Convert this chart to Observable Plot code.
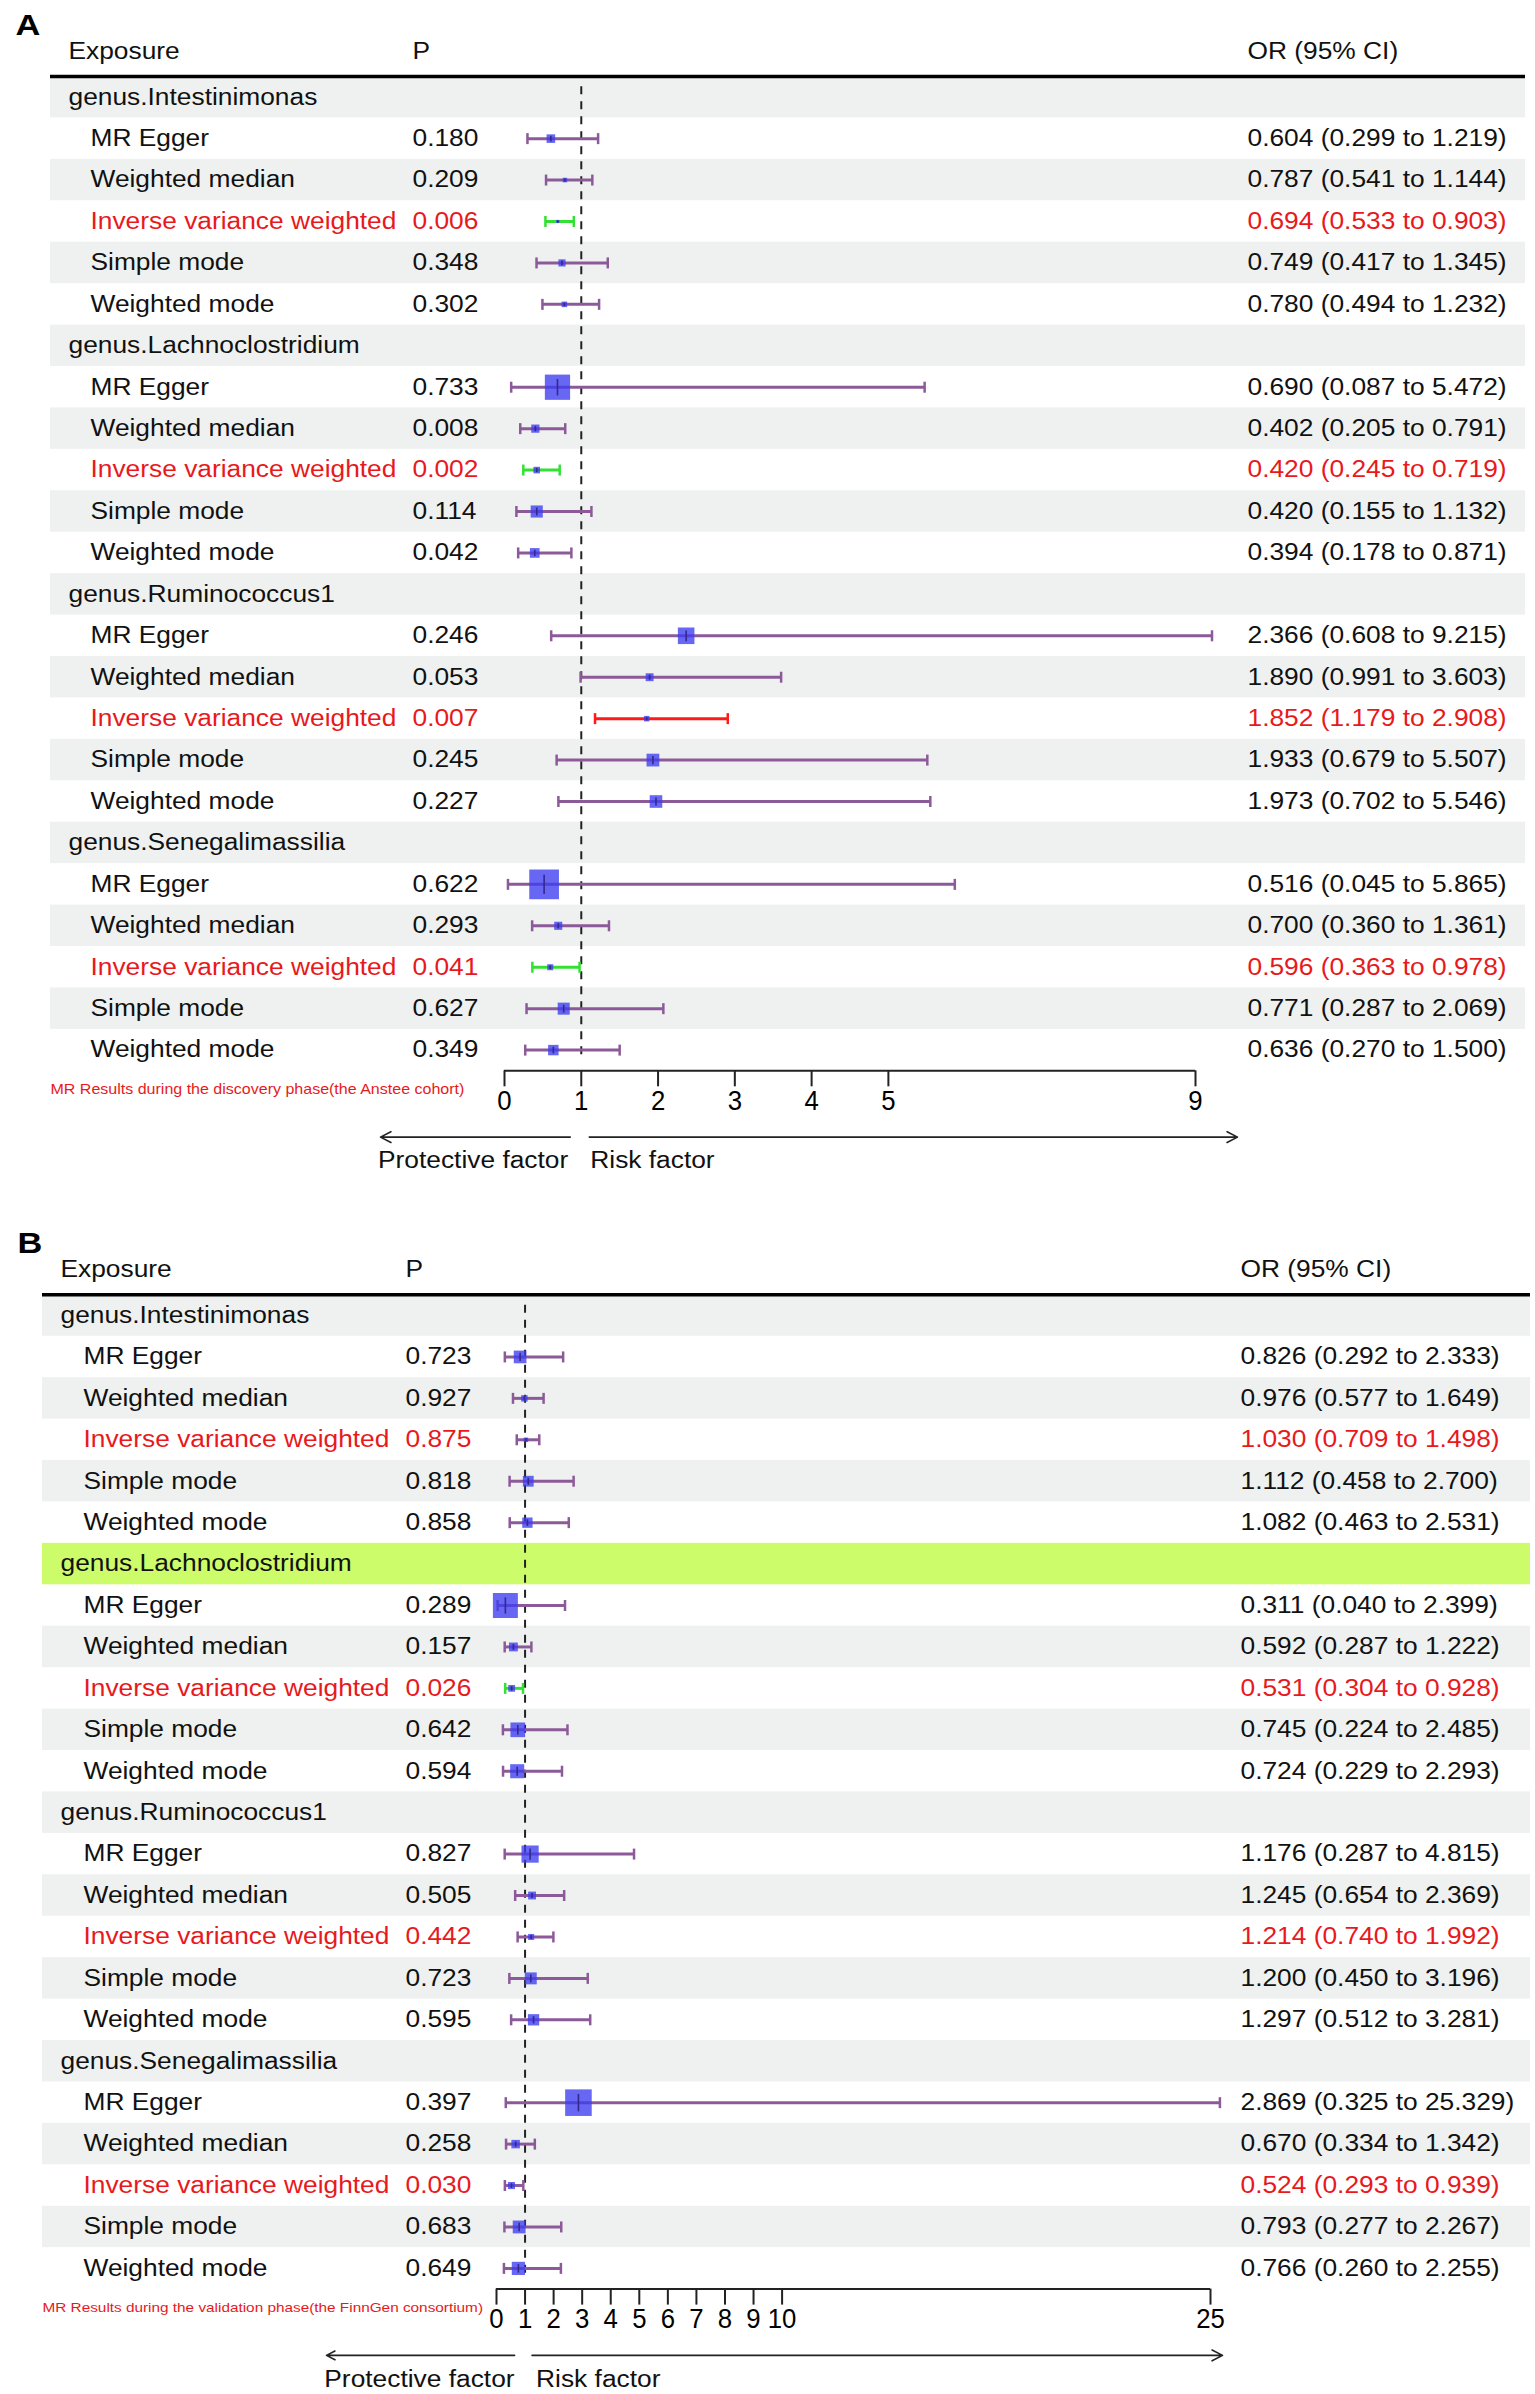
<!DOCTYPE html>
<html>
<head>
<meta charset="utf-8">
<script src="https://cdn.jsdelivr.net/npm/d3@7"></script>
<script src="https://cdn.jsdelivr.net/npm/@observablehq/plot@0.6"></script>
<style>
  html, body { margin: 0; padding: 0; background: #fff; overflow: hidden; }
  svg { display: block; }
</style>
</head>
<body>
<div id="chart"></div>
<script>
// ---------------- data ----------------
const genera = ["genus.Intestinimonas", "genus.Lachnoclostridium", "genus.Ruminococcus1", "genus.Senegalimassilia"];
const methods = ["MR Egger", "Weighted median", "Inverse variance weighted", "Simple mode", "Weighted mode"];
const headers = ["Exposure", "P", "OR (95% CI)"];
const arrowLabels = ["Protective factor", "Risk factor"];

// Panel A: discovery phase
const pA  = [0.180, 0.209, 0.006, 0.348, 0.302,  0.733, 0.008, 0.002, 0.114, 0.042,  0.246, 0.053, 0.007, 0.245, 0.227,  0.622, 0.293, 0.041, 0.627, 0.349];
const orA = [0.604, 0.787, 0.694, 0.749, 0.780,  0.690, 0.402, 0.420, 0.420, 0.394,  2.366, 1.890, 1.852, 1.933, 1.973,  0.516, 0.700, 0.596, 0.771, 0.636];
const loA = [0.299, 0.541, 0.533, 0.417, 0.494,  0.087, 0.205, 0.245, 0.155, 0.178,  0.608, 0.991, 1.179, 0.679, 0.702,  0.045, 0.360, 0.363, 0.287, 0.270];
const hiA = [1.219, 1.144, 0.903, 1.345, 1.232,  5.472, 0.791, 0.719, 1.132, 0.871,  9.215, 3.603, 2.908, 5.507, 5.546,  5.865, 1.361, 0.978, 2.069, 1.500];
const ciFlagA = ["none","none","protective","none","none",  "none","none","protective","none","none",  "none","none","risk","none","none",  "none","none","protective","none","none"];
const ticksA = [0, 1, 2, 3, 4, 5, 9];
const captionA = "MR Results during the discovery phase(the Anstee cohort)";
const highlightA = [];

// Panel B: validation phase
const pB  = [0.723, 0.927, 0.875, 0.818, 0.858,  0.289, 0.157, 0.026, 0.642, 0.594,  0.827, 0.505, 0.442, 0.723, 0.595,  0.397, 0.258, 0.030, 0.683, 0.649];
const orB = [0.826, 0.976, 1.030, 1.112, 1.082,  0.311, 0.592, 0.531, 0.745, 0.724,  1.176, 1.245, 1.214, 1.200, 1.297,  2.869, 0.670, 0.524, 0.793, 0.766];
const loB = [0.292, 0.577, 0.709, 0.458, 0.463,  0.040, 0.287, 0.304, 0.224, 0.229,  0.287, 0.654, 0.740, 0.450, 0.512,  0.325, 0.334, 0.293, 0.277, 0.260];
const hiB = [2.333, 1.649, 1.498, 2.700, 2.531,  2.399, 1.222, 0.928, 2.485, 2.293,  4.815, 2.369, 1.992, 3.196, 3.281,  25.329, 1.342, 0.939, 2.267, 2.255];
const ciFlagB = ["none","none","none","none","none",  "none","none","protective","none","none",  "none","none","none","none","none",  "none","none","none","none","none"];
const ticksB = [0, 1, 2, 3, 4, 5, 6, 7, 8, 9, 10, 25];
const captionB = "MR Results during the validation phase(the FinnGen consortium)";
const highlightB = ["genus.Lachnoclostridium"];

// ---------------- style ----------------
const S = {
  font: "'Liberation Sans', Arial, Helvetica, sans-serif",
  text: "#111111",
  red: "#e8191c",
  band: "#eef1f0",
  highlight: "#ccfc6a",
  ci: {none: "#8c5a98", protective: "#33e033", risk: "#ff1a1a"},
  box: "#3c3cf0",
  boxOpacity: 0.78,
  estLine: "#34288e",
  fontSize: 23,
  stretch: 1.145,
  tickStretch: 0.92,
  boxPxPerLog: 6.1,
  capLen: 11,
  step: 41.43
};

function buildRows(p, or, lo, hi, flag) {
  const rows = [];
  genera.forEach((g, gi) => {
    rows.push({kind: "genus", label: g});
    methods.forEach((m, mi) => {
      const k = gi * methods.length + mi;
      rows.push({kind: "method", label: m, p: p[k], or: or[k], lo: lo[k], hi: hi[k], flag: flag[k]});
    });
  });
  rows.forEach((r, i) => (r.row = i));
  return rows;
}

const vline = (f) => ({
  draw(ctx, size) {
    const h = Math.sqrt(size) * f / 2;
    ctx.moveTo(0, -h);
    ctx.lineTo(0, h);
  }
});
const capSymbol = vline(1);
const estSymbol = vline(0.65);

const panels = [
  {label: "A", rows: buildRows(pA, orA, loA, hiA, ciFlagA), ticks: ticksA, caption: captionA, captionSize: 14, highlight: highlightA,
   height: 1200, marginLeft: 50, marginRight: 10, xRange: [504, 1195], row0: 96.7, labelDx: -35,
   cols: {exposure: 18, method: 40, p: 362, or: 1197},
   arrow: {leftIn: 11, leftOut: -124, rightIn: 8, rightOut: -42, textL: -13, textR: 9}},
  {label: "B", rows: buildRows(pB, orB, loB, hiB, ciFlagB), ticks: ticksB, caption: captionB, captionSize: 13.4, highlight: highlightB,
   height: 1194, marginLeft: 42, marginRight: 5, xRange: [496, 1210], row0: 115, labelDx: -25,
   cols: {exposure: 18, method: 41, p: 363, or: 1198},
   arrow: {leftIn: 10.5, leftOut: -170, rightIn: 7, rightOut: -12, textL: -10.5, textR: 11}}
];

function stretchText(svg) {
  svg.querySelectorAll("text").forEach((t) => {
    const g = t.closest("g[aria-label]");
    const lab = g ? g.getAttribute("aria-label") : "";
    const s = lab === "x-axis tick label" ? S.tickStretch : S.stretch;
    const tr = t.getAttribute("transform");
    if (tr) {
      t.setAttribute("transform", tr + ` scale(${s},1)`);
    } else {
      const x = +t.getAttribute("x") || 0, y = +t.getAttribute("y") || 0;
      t.removeAttribute("x"); t.removeAttribute("y");
      t.setAttribute("transform", `translate(${x},${y}) scale(${s},1)`);
    }
  });
  svg.querySelectorAll('g[aria-label="genus-label"], g[aria-label="exposure-header"]').forEach((g) => {
    g.setAttribute("letter-spacing", "1.1");
  });
}

function drawPanel(P) {
  const rows = P.rows;
  const n = rows.length;
  const methodRows = rows.filter((d) => d.kind === "method");
  const genusRows = rows.filter((d) => d.kind === "genus");
  const ivw = methods[2];
  const yRange = [P.row0, P.row0 + (n - 1) * S.step];
  const marginBottom = P.height - (P.row0 + (n - 0.5) * S.step);
  const xMin = P.ticks[0], xMax = P.ticks[P.ticks.length - 1];
  const txt = {frameAnchor: "left", textAnchor: "start", fontSize: S.fontSize};
  const rowFill = (d) => (d.label === ivw ? S.red : S.text);

  const svg = Plot.plot({
    width: 1535,
    height: P.height,
    marginLeft: P.marginLeft,
    marginRight: P.marginRight,
    marginTop: P.row0 - S.step / 2,
    marginBottom,
    style: {fontFamily: S.font, background: "#fff", maxWidth: "none", overflow: "visible"},
    x: {type: "linear", domain: [xMin, xMax], range: P.xRange, label: null},
    y: {type: "linear", domain: [0, n - 1], range: yRange, axis: null},
    r: {type: "linear", domain: [0, 1], range: [0, S.boxPxPerLog / Math.sqrt(Math.PI)]},
    color: {type: "identity"},
    marks: [
      // row bands
      Plot.rect(rows.filter((d) => P.highlight.includes(d.label) || d.row % 2 === 0), {
        y1: (d) => d.row - 0.5, y2: (d) => d.row + 0.5,
        fill: (d) => (P.highlight.includes(d.label) ? S.highlight : S.band)
      }),
      // header rule
      Plot.ruleY([-0.5], {stroke: "#000", strokeWidth: 3.5}),
      // reference line at OR = 1
      Plot.ruleX([1], {y1: -0.25, y2: n - 0.72, stroke: "#222", strokeWidth: 2, strokeDasharray: "8,7"}),
      // CI lines
      Plot.ruleY(methodRows, {y: "row", x1: "lo", x2: "hi", stroke: (d) => S.ci[d.flag], strokeWidth: 3}),
      Plot.dot(methodRows, {x: "lo", y: "row", symbol: capSymbol, r: S.capLen / Math.sqrt(Math.PI), fill: "none", stroke: (d) => S.ci[d.flag], strokeWidth: 2.5}),
      Plot.dot(methodRows, {x: "hi", y: "row", symbol: capSymbol, r: S.capLen / Math.sqrt(Math.PI), fill: "none", stroke: (d) => S.ci[d.flag], strokeWidth: 2.5}),
      // boxes (size from log CI width)
      Plot.dot(methodRows, {x: "or", y: "row", symbol: "square", r: (d) => Math.log(d.hi / d.lo), fill: S.box, fillOpacity: S.boxOpacity, stroke: "none"}),
      Plot.dot(methodRows, {x: "or", y: "row", symbol: estSymbol, r: (d) => Math.log(d.hi / d.lo), fill: "none", stroke: S.estLine, strokeWidth: 1.6}),
      // axis
      Plot.ruleY([n - 0.5], {x1: xMin, x2: xMax, stroke: "#222", strokeWidth: 2}),
      Plot.axisX({ticks: P.ticks, tickSize: 16, tickPadding: 3, fontSize: 28, stroke: "#222", strokeWidth: 2, label: null, tickFormat: (d) => String(d)}),
      // header texts
      Plot.text([P.label], {...txt, y: -1.73, dx: P.labelDx, fontSize: 30, fontWeight: "bold", fill: "#000"}),
      Plot.text([headers[0]], {...txt, y: -1.1, dx: P.cols.exposure, fill: S.text, ariaLabel: "exposure-header"}),
      Plot.text([headers[1]], {...txt, y: -1.1, dx: P.cols.p, fill: S.text}),
      Plot.text([headers[2]], {...txt, y: -1.1, dx: P.cols.or, fill: S.text}),
      // row texts
      Plot.text(genusRows, {...txt, y: "row", text: "label", dx: P.cols.exposure, fill: S.text, ariaLabel: "genus-label"}),
      Plot.text(methodRows, {...txt, y: "row", text: "label", dx: P.cols.method, fill: rowFill}),
      Plot.text(methodRows, {...txt, y: "row", text: (d) => d.p.toFixed(3), dx: P.cols.p, fill: rowFill}),
      Plot.text(methodRows, {...txt, y: "row", text: (d) => `${d.or.toFixed(3)} (${d.lo.toFixed(3)} to ${d.hi.toFixed(3)})`, dx: P.cols.or, fill: rowFill}),
      // caption
      Plot.text([P.caption], {...txt, y: n - 0.05, fontSize: P.captionSize, fill: S.red}),
      // direction arrows
      Plot.arrow([0], {x1: 1, x2: xMin, y1: n + 1.1, y2: n + 1.1, insetStart: P.arrow.leftIn, insetEnd: P.arrow.leftOut, headLength: 11, headAngle: 55, stroke: "#222", strokeWidth: 1.6}),
      Plot.arrow([0], {x1: 1, x2: xMax, y1: n + 1.1, y2: n + 1.1, insetStart: P.arrow.rightIn, insetEnd: P.arrow.rightOut, headLength: 11, headAngle: 55, stroke: "#222", strokeWidth: 1.6}),
      Plot.text([arrowLabels[0]], {x: 1, y: n + 1.68, text: (d) => d, textAnchor: "end", dx: P.arrow.textL, fontSize: S.fontSize, fill: S.text}),
      Plot.text([arrowLabels[1]], {x: 1, y: n + 1.68, text: (d) => d, textAnchor: "start", dx: P.arrow.textR, fontSize: S.fontSize, fill: S.text})
    ]
  });
  stretchText(svg);
  return svg;
}

const root = document.getElementById("chart");
panels.forEach((P) => root.appendChild(drawPanel(P)));
</script>
</body>
</html>
